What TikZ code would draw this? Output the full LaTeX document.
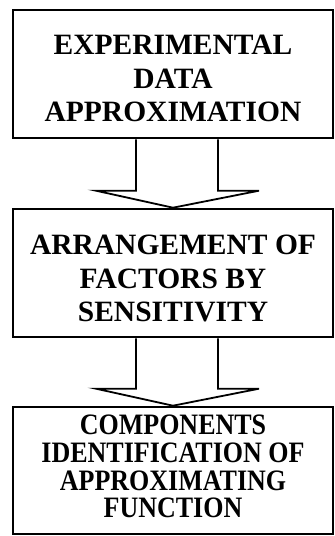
\documentclass[tikz,border=0pt]{standalone}
\usepackage{fontspec}
\setmainfont{Liberation Serif}
\usetikzlibrary{calc}
\begin{document}
\begin{tikzpicture}[x=1pt,y=-1pt,
  stagebox/.style={draw=black,line width=2.6pt,fill=white,minimum width=320pt,inner sep=0pt},
  stagetext/.style={inner sep=0pt,align=center,font=\bfseries\fontsize{29.5}{33.5}\selectfont},
  hollowarrow/.style={draw=black,line width=1.8pt,fill=white,line join=miter}]
\useasboundingbox (0,0) rectangle (335,536);
\node[stagebox,minimum height=128pt] (b1) at (173,74) {};
\node[stagebox,minimum height=128pt] (b2) at (173,273) {};
\node[stagebox,minimum height=127pt] (b3) at (173,470.5) {};
\node[stagetext] (t1) at ($(b1.center)+(0,4.5)$) {EXPERIMENTAL\\DATA\\APPROXIMATION};
\node[stagetext] (t2) at ($(b2.center)+(0,5.5)$) {ARRANGEMENT OF\\FACTORS BY\\SENSITIVITY};
\node[stagetext,font=\bfseries\fontsize{26}{24.3}\selectfont] (t3) at ($(b3.center)+(0,-4)$)
  {\scalebox{1}[1.14]{\parbox{310pt}{\centering COMPONENTS\\IDENTIFICATION OF\\APPROXIMATING\\FUNCTION}}};
% arrow 1
\draw[hollowarrow] ($(b1.south)+(-37,0)$) -- ($(b2.north)+(-37,-17)$) -- ($(b2.north)+(-77,-17)$)
  -- (b2.north) -- ($(b2.north)+(86,-17)$) -- ($(b2.north)+(45,-17)$) -- ($(b1.south)+(45,0)$);
% arrow 2
\draw[hollowarrow] ($(b2.south)+(-37,0)$) -- ($(b3.north)+(-37,-17)$) -- ($(b3.north)+(-77,-17)$)
  -- (b3.north) -- ($(b3.north)+(86,-17)$) -- ($(b3.north)+(45,-17)$) -- ($(b2.south)+(45,0)$);
\end{tikzpicture}
\end{document}
